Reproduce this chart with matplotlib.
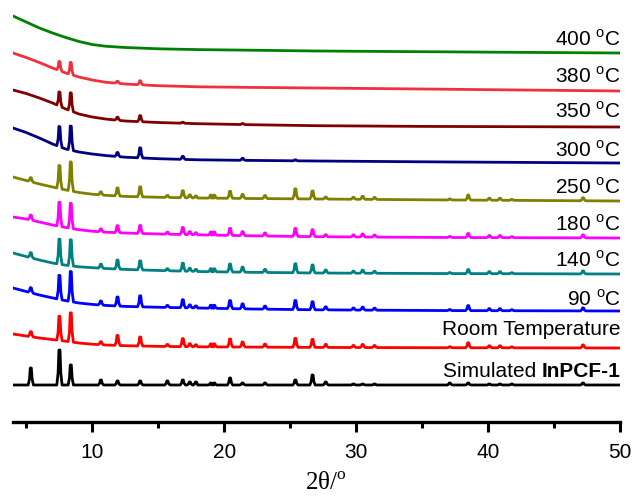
import numpy as np
import matplotlib
matplotlib.use("Agg")
import matplotlib.pyplot as plt

# 2theta positions of the reflections (deg)
peak_pos = [5.35, 7.52, 8.38, 10.66, 11.92, 13.64, 15.7, 16.87, 17.4, 17.86,
            19.0, 19.25, 20.45, 21.4, 23.1, 25.4, 26.7, 27.7, 29.8, 30.5,
            31.4, 37.1, 38.5, 40.1, 40.9, 41.8, 47.2]

# trace names, bottom to top
deg = "$^\\mathregular{o}$C"
labels = ["Simulated", "Room Temperature", "90 " + deg, "140 " + deg,
          "180 " + deg, "250 " + deg, "300 " + deg,
          "350 " + deg, "380 " + deg, "400 " + deg]

colors = ["#000000", "#FF0000", "#0000FF", "#008080", "#FF00FF",
          "#808000", "#000080", "#800000", "#F0303C", "#008000"]

# background level at these 2theta values (stacked units)
bg_x = [4, 5, 6, 7, 8, 9, 10, 11, 12.5, 15, 18, 22, 27, 35, 50]
bg_sim = [37] * len(bg_x)
bg_rt = [88, 86, 84, 82.5, 80.8, 79, 77.8, 77, 76.3, 75.6, 75.2, 74.9, 74.6, 74.3, 74]
bg_90 = [134, 130.5, 127, 124, 121.3, 119, 117.6, 116.6, 115.6, 114.7, 114, 113, 112.2, 111.5, 111]
bg_140 = [169, 165.5, 162, 159, 156.8, 155.2, 154.3, 153.5, 152.6, 151.5, 150.5, 149.7, 149, 148.5, 148]
bg_180 = [205, 203, 200, 197, 194.5, 192.3, 190.8, 189.8, 189, 188, 187.2, 186.2, 185.3, 184.6, 184]
bg_250 = [245, 241.5, 238, 235, 232, 229.5, 227.8, 226.7, 225.6, 224.7, 224, 223.5, 223, 222.2, 221]
bg_300 = [294, 289.5, 284, 278, 273, 270, 268, 266.5, 264.8, 263.3, 262.2, 261.6, 261, 260.2, 259]
bg_350 = [332, 328.5, 324, 319, 313, 308, 305, 303, 301, 299.5, 298.3, 297.3, 296.3, 295.6, 295]
bg_380 = [369, 364.5, 359.5, 354, 349, 345, 342, 339.8, 338, 336.3, 335.2, 334.6, 334, 333, 331]
bg_400 = [406, 400, 394, 389, 384.5, 380.5, 377.5, 375.8, 374.5, 373.2, 372.4, 371.8, 371, 370.3, 369]

# peak heights above background, same order as peak_pos
h_sim = [17, 35, 20, 5, 4, 4, 4, 5, 3, 3, 2, 2, 7, 2, 2, 5, 10, 3, 1, 1, 1, 2, 2, 1, 1, 1, 2]
h_rt = [5, 24, 29, 3, 10, 9, 2, 8, 3, 2, 3, 3, 8, 5, 3, 9, 8, 3, 2, 3, 2, 1, 5, 2, 2, 1, 3]
h_90 = [5, 24, 30, 4, 9, 11, 2, 8, 3, 2, 3, 3, 8, 5, 3, 9, 8, 3, 2, 3, 2, 1, 5, 2, 2, 1, 3]
h_140 = [5, 25, 26, 4, 9, 9, 2, 8, 3, 2, 3, 3, 8, 5, 3, 9, 8, 3, 2, 3, 2, 1, 4, 2, 2, 1, 3]
h_180 = [5, 24, 25, 3, 7, 8, 2, 7, 3, 2, 3, 3, 7, 4, 3, 8, 7, 2, 2, 3, 2, 1, 4, 2, 2, 1, 3]
h_250 = [4, 23, 29, 3, 8, 10, 2, 7, 3, 2, 3, 3, 7, 4, 3, 10, 8, 2, 2, 3, 2, 1, 5, 2, 2, 1, 3]
h_300 = [0, 20, 24, 0, 4, 10, 0, 3, 0, 0, 0, 0, 0, 2, 0, 1, 0, 0, 0, 0, 0, 0, 0, 0, 0, 0, 0]
h_350 = [0, 14, 18, 0, 3, 6, 0, 1, 0, 0, 0, 0, 0, 1, 0, 0, 0, 0, 0, 0, 0, 0, 0, 0, 0, 0, 0]
h_380 = [0, 9, 12, 0, 2, 4, 0, 0, 0, 0, 0, 0, 0, 0, 0, 0, 0, 0, 0, 0, 0, 0, 0, 0, 0, 0, 0]
h_400 = [0] * len(peak_pos)

backgrounds = [bg_sim, bg_rt, bg_90, bg_140, bg_180, bg_250, bg_300, bg_350, bg_380, bg_400]
heights = [h_sim, h_rt, h_90, h_140, h_180, h_250, h_300, h_350, h_380, h_400]

# gap between trace baseline and its label
label_gap = [8, 13, 5, 7, 7, 7, 6, 9, 8, 7]

half_w = 0.2


def build_trace(bg, hs):
    xs = list(bg_x)
    ys = list(bg)
    for p, h in zip(peak_pos, hs):
        if h <= 0:
            continue
        for dx, frac in [(-half_w, 0.0), (-0.1, 0.35), (-0.04, 1.0),
                         (0.04, 1.0), (0.1, 0.35), (half_w, 0.0)]:
            xs.append(p + dx)
            ys.append(np.interp(p + dx, bg_x, bg) + frac * h)
    order = np.argsort(xs)
    return np.array(xs)[order], np.array(ys)[order]


fig = plt.figure(figsize=(6.34, 4.97), dpi=100)
ax = fig.add_axes([13 / 634, 1 - 422 / 497, 607 / 634, 422 / 497])

for bg, hs, c in zip(backgrounds, heights, colors):
    x, y = build_trace(bg, hs)
    ax.plot(x, y, color=c, lw=2.0, solid_joinstyle="round")

label_font = dict(family=["Liberation Sans", "DejaVu Sans"], fontsize=15)
for i, (lab, bg) in enumerate(zip(labels, backgrounds)):
    ypos = bg[-1] + label_gap[i]
    if i == 0:
        bold = ax.text(50.05, ypos, "InPCF-1", ha="right", va="baseline",
                       fontweight="bold", **label_font)
        ax.annotate("Simulated ", xy=(0, 0), xycoords=bold, ha="right",
                    va="bottom", **label_font)
    else:
        ax.text(50.05, ypos, lab, ha="right", va="baseline", **label_font)

ax.set_xlim(4, 50)
ax.set_ylim(0, 422)
for s in ["top", "right", "left"]:
    ax.spines[s].set_visible(False)
ax.spines["bottom"].set_linewidth(2.4)
ax.set_yticks([])
ax.set_xticks([10, 20, 30, 40, 50])
ax.set_xticks([5, 15, 25, 35, 45], minor=True)
ax.tick_params(axis="x", which="major", length=7, width=2.2, pad=8,
               labelsize=15)
ax.tick_params(axis="x", which="minor", length=4, width=2.2)
for t in ax.get_xticklabels():
    t.set_fontfamily("Liberation Sans")
ax.set_xlabel("2θ/$^\\mathregular{o}$", family="Liberation Serif", fontsize=18,
              va="bottom")
ax.xaxis.set_label_coords(0.515, -0.172)

fig.savefig("out.png", dpi=100)
